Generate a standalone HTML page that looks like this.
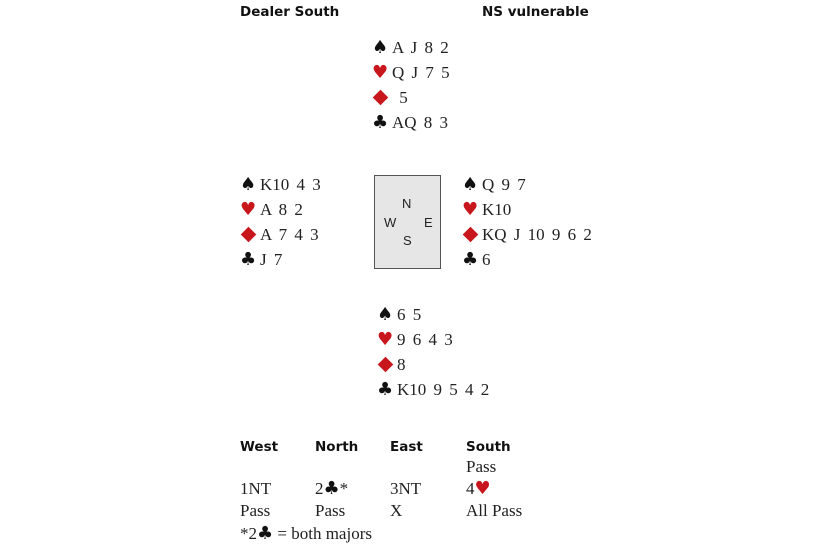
<html><head><style>
body{margin:0;width:830px;height:550px;background:#fff;position:relative;overflow:hidden}
div{position:absolute;white-space:pre;line-height:20px;height:20px}
.s{font-family:"Liberation Serif",serif;font-size:17px;color:#222;word-spacing:3px}
.a{word-spacing:0}
.h{font-family:"DejaVu Sans","Liberation Sans",sans-serif;font-weight:bold;font-size:13.5px;color:#111;word-spacing:0}
.r,.k{font-family:"DejaVu Sans",sans-serif;font-size:18px;display:inline-block;width:20px;vertical-align:top;line-height:20px}
.r{color:#c8161d}
.k{color:#111}
.i{width:auto}
.d{display:inline-block;width:20px;height:20px;vertical-align:top;position:relative}
.d::before{content:"";position:absolute;left:3px;top:4px;width:11px;height:11px;background:#c8161d;transform:rotate(45deg)}
.box{left:374px;top:175px;width:65px;height:92px;background:#e6e6e6;border:1px solid #555;line-height:normal}
.c{font-family:"Liberation Sans",sans-serif;font-size:13px;color:#222;line-height:14px;height:14px}
</style></head><body>
<div class="h" style="left:240px;top:2px">Dealer South</div>
<div class="h" style="left:482px;top:2px">NS vulnerable</div>

<div class="s" style="left:372px;top:38px"><span class="k">♠</span>A J 8 2</div>
<div class="s" style="left:372px;top:63px"><span class="r">♥</span>Q J 7 5</div>
<div class="s" style="left:372px;top:88px"><span class="d"></span> 5</div>
<div class="s" style="left:372px;top:113px"><span class="k">♣</span>AQ 8 3</div>

<div class="s" style="left:240px;top:175px"><span class="k">♠</span>K10 4 3</div>
<div class="s" style="left:240px;top:200px"><span class="r">♥</span>A 8 2</div>
<div class="s" style="left:240px;top:225px"><span class="d"></span>A 7 4 3</div>
<div class="s" style="left:240px;top:250px"><span class="k">♣</span>J 7</div>

<div class="box"></div>
<div class="c" style="left:402px;top:197px">N</div>
<div class="c" style="left:384px;top:216px">W</div>
<div class="c" style="left:424px;top:216px">E</div>
<div class="c" style="left:403px;top:234px">S</div>

<div class="s" style="left:462px;top:175px"><span class="k">♠</span>Q 9 7</div>
<div class="s" style="left:462px;top:200px"><span class="r">♥</span>K10</div>
<div class="s" style="left:462px;top:225px"><span class="d"></span>KQ J 10 9 6 2</div>
<div class="s" style="left:462px;top:250px"><span class="k">♣</span>6</div>

<div class="s" style="left:377px;top:305px"><span class="k">♠</span>6 5</div>
<div class="s" style="left:377px;top:330px"><span class="r">♥</span>9 6 4 3</div>
<div class="s" style="left:377px;top:355px"><span class="d"></span>8</div>
<div class="s" style="left:377px;top:380px"><span class="k">♣</span>K10 9 5 4 2</div>

<div class="h" style="left:240px;top:437px">West</div>
<div class="h" style="left:315px;top:437px">North</div>
<div class="h" style="left:390px;top:437px">East</div>
<div class="h" style="left:466px;top:437px">South</div>
<div class="s a" style="left:466px;top:457px">Pass</div>
<div class="s a" style="left:240px;top:479px">1NT</div>
<div class="s a" style="left:315px;top:479px">2<span class="k i">♣</span>*</div>
<div class="s a" style="left:390px;top:479px">3NT</div>
<div class="s a" style="left:466px;top:479px">4<span class="r i">♥</span></div>
<div class="s a" style="left:240px;top:501px">Pass</div>
<div class="s a" style="left:315px;top:501px">Pass</div>
<div class="s a" style="left:390px;top:501px">X</div>
<div class="s a" style="left:466px;top:501px">All Pass</div>
<div class="s a" style="left:240px;top:524px">*2<span class="k i">♣</span> = both majors</div>
</body></html>
